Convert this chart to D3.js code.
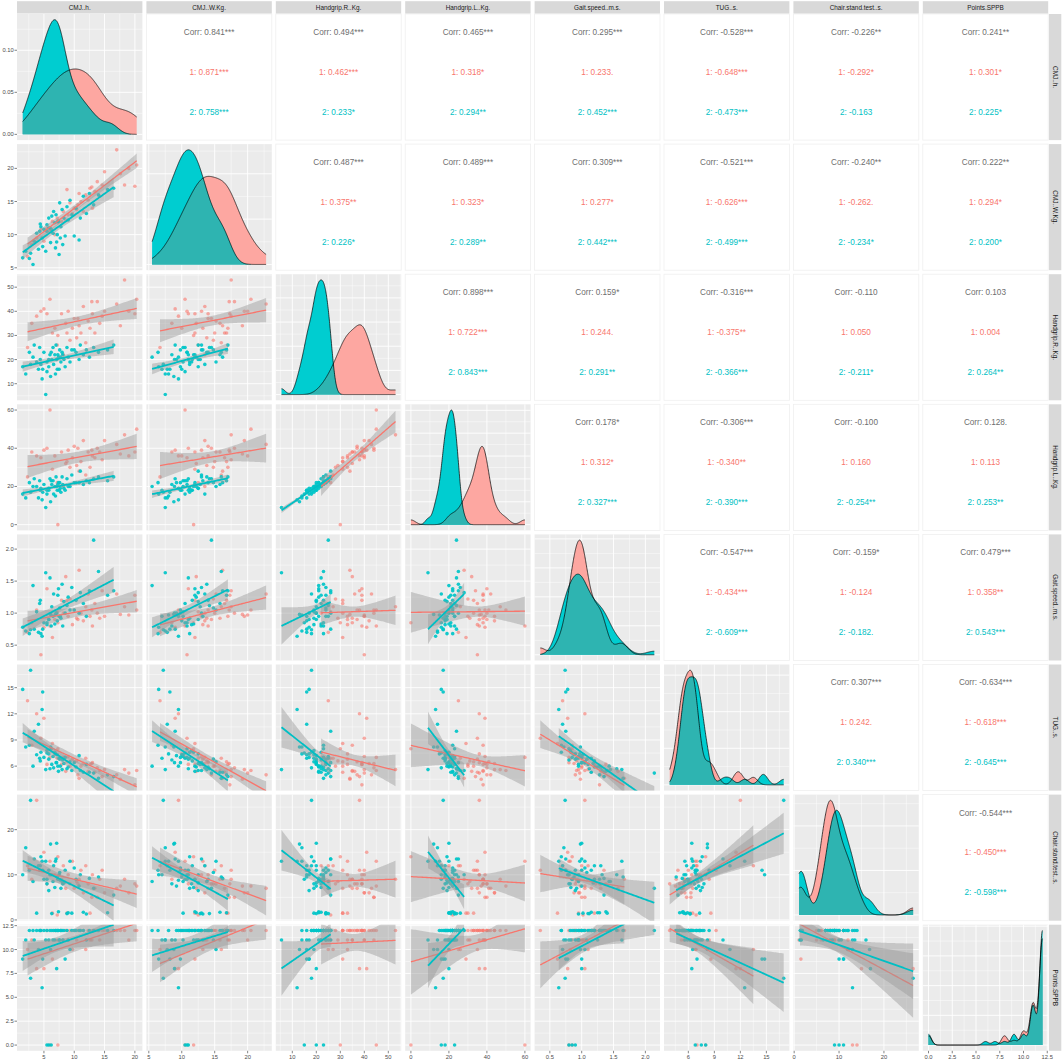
<!DOCTYPE html>
<html>
<head>
<meta charset="utf-8">
<script src="https://cdn.jsdelivr.net/npm/d3@7"></script>
<style>
  body { margin: 0; background: #fff; }
  text { font-family: "Liberation Sans", Arial, sans-serif; }
</style>
</head>
<body>
<svg id="chart" width="1062" height="1061"></svg>
<script>
var varNames = ['CMJ..h.', 'CMJ..W.Kg.', 'Handgrip.R..Kg.', 'Handgrip.L..Kg.',
  'Gait.speed..m.s.', 'TUG..s.', 'Chair.stand.test..s.', 'Points.SPPB'];

// group 1 (red)
var cmjH_1 = [2.3, 3.0, 3.8, 4.5, 5.0, 5.5, 6.0, 6.4, 6.8, 7.2, 7.3, 7.9, 8.2, 8.6, 9.0, 9.3, 9.7, 10.0, 10.4, 10.8,
  11.1, 11.5, 11.9, 12.3, 12.6, 13.0, 13.4, 13.8, 14.2, 14.6, 15.0, 8.8, 10.6, 12.9, 17.0, 17.6, 18.3, 19.0, 20.0, 20.3];
var cmjW_1 = [6.7, 8.5, 9.5, 10.8, 9.0, 11.0, 10.5, 12.0, 10.0, 12.5, 11.8, 12.0, 13.5, 12.2, 13.0, 14.8, 13.2, 14.0, 13.8, 16.2,
  15.0, 13.5, 16.0, 15.2, 17.0, 14.0, 16.5, 18.0, 15.8, 17.5, 19.5, 16.8, 14.5, 17.2, 22.8, 19.2, 17.5, 20.0, 17.3, 20.5];
var gripR_1 = [25, 35, 38, 40, 41, 39, 45, 31, 33, 26, 30, 39, 22, 35, 40, 28, 33, 37, 29, 34,
  31, 42, 27, 36, 33, 39, 31, 44, 35, 38, 40, 31, 37, 44, 43, 34, 53, 40, 39, 45];
var gripL_1 = [25, 38, 36, 35, 39, 40, 60, 29, 36, 22, 0, 38, 20, 32, 39, 30, 35, 41, 31, 28,
  33, 44, 26, 38, 30, 36, 35, 40, 38, 34, 44, 33, 40, 39, 42, 37, 47, 36, 38, 50];
var gait_1 = [0.70, 0.85, 1.05, 0.35, 0.78, 1.38, 0.80, 0.62, 0.90, 1.02, 0.85, 1.20, 1.00, 1.57, 0.95, 1.22, 0.82, 1.05, 0.92, 1.67,
  1.00, 0.88, 1.10, 1.30, 0.95, 0.80, 1.15, 1.00, 0.92, 1.35, 0.95, 1.20, 0.90, 1.05, 1.30, 0.98, 1.10, 0.97, 1.28, 1.05];
var tug_1 = [13.5, 8.4, 12.0, 9.2, 11.5, 6.2, 7.0, 8.6, 7.4, 6.9, 8.0, 6.2, 7.0, 5.4, 7.1, 6.0, 6.8, 6.5, 6.6, 4.6,
  6.0, 6.3, 6.9, 5.4, 6.2, 6.4, 5.3, 5.8, 5.5, 4.8, 5.6, 6.5, 5.0, 6.3, 5.0, 4.5, 5.6, 5.2, 3.85, 5.5];
var chair_1 = [12, 9, 26.5, 11, 15, 8, 13, 1.5, 10, 1.1, 14, 9, 12, 7, 10, 8, 13, 7, 8.5, 9,
  11, 6, 12, 8, 1.5, 10, 7, 5, 9, 11, 6, 1.5, 8, 5, 7, 7.5, 9, 6, 8, 7.5];
var sppb_1 = [10, 11, 8, 12, 8, 12, 0, 9, 12, 11, 0, 12, 11, 12, 11, 12, 10, 12, 11, 12,
  12, 12, 10, 12, 11, 12, 12, 12, 11, 12, 12, 12, 12, 11, 12, 12, 12, 11, 12, 12];

// group 2 (cyan)
var cmjH_2 = [1.5, 2.0, 4.4, 2.6, 2.8, 6.9, 3.2, 3.4, 7.5, 3.8, 8.1, 4.1, 4.3, 4.5, 10.8, 4.8, 5.0, 9.0, 5.3, 5.5,
  10.0, 5.8, 6.0, 6.1, 6.3, 6.5, 6.6, 6.8, 7.0, 7.2, 7.4, 7.6, 7.8, 8.0, 8.3, 8.5, 8.8, 7.3, 9.3, 9.6,
  7.7, 10.3, 7.1, 11.0, 11.5, 12.0, 12.5, 13.2, 14.0, 5.5, 5.8, 6.2, 15.5, 16.5, 4.7];
var cmjW_2 = [6.5, 7.5, 11.6, 6.4, 7.2, 8.0, 5.5, 9.0, 7.0, 10.2, 8.5, 7.8, 10.5, 11.2, 9.2, 8.2, 10.8, 12.2, 7.5, 11.5,
  9.8, 12.5, 11.0, 8.8, 12.8, 10.2, 13.5, 11.8, 13.0, 10.0, 12.0, 14.8, 11.2, 13.8, 12.5, 9.8, 14.2, 12.0, 15.2, 13.0,
  9.5, 14.0, 8.9, 12.5, 15.8, 13.2, 16.2, 14.5, 16.0, 10.5, 11.0, 10.8, 16.8, 17.0, 9.5];
var gripR_2 = [17, 14, 20, 23, 18, 14, 21, 26, 16, 19, 22, 16, 25, 18, 20, 16, 23, 21, 5.5, 19,
  24, 17, 22, 13, 20, 25, 18, 22, 26, 16, 21, 24, 19, 23, 20, 17, 25, 22, 19, 24,
  21, 23, 20, 26, 22, 24, 21, 25, 23, 15, 20, 23, 24, 26, 12];
var gripL_2 = [16, 14, 18, 22, 17, 15, 20, 24, 18, 20, 21, 14, 23, 19, 22, 17, 21, 20, 9, 18,
  22, 19, 24, 12, 21, 23, 16, 20, 25, 18, 22, 22, 17, 25, 19, 18, 24, 21, 20, 26,
  19, 22, 20, 28, 21, 23, 22, 24, 25, 16, 18, 23, 23, 25, 13];
var gait_2 = [0.78, 0.72, 1.20, 0.68, 0.74, 0.97, 1.43, 0.75, 0.95, 1.02, 0.80, 0.70, 1.15, 0.68, 1.00, 0.75, 0.85, 1.25, 1.63, 0.82,
  1.05, 0.90, 1.55, 0.98, 1.10, 0.95, 1.30, 0.83, 1.00, 0.88, 1.38, 1.08, 0.92, 1.45, 1.18, 1.00, 1.12, 1.28, 1.05, 1.40,
  0.95, 1.20, 1.00, 1.32, 1.15, 0.95, 1.35, 2.14, 1.65, 0.85, 0.90, 0.80, 1.28, 1.35, 0.64];
var tug_2 = [14.8, 8.2, 6.6, 8.4, 17.0, 7.4, 6.0, 10.0, 6.9, 7.3, 6.7, 10.8, 6.9, 7.6, 7.2, 14.5, 7.0, 5.9, 5.6, 7.8,
  6.4, 7.4, 5.7, 8.2, 6.2, 7.1, 5.8, 7.6, 6.4, 7.3, 5.4, 6.8, 6.9, 5.6, 6.3, 7.0, 5.7, 6.0, 6.5, 5.5,
  6.0, 5.9, 6.4, 5.5, 5.3, 6.2, 5.3, 5.2, 4.6, 7.5, 6.8, 8.0, 5.0, 4.8, 12.5];
var chair_2 = [10, 16, 12, 11, 26.5, 13, 8.5, 13.5, 10, 1.5, 8, 12, 11, 14, 7.5, 11, 9, 1.6, 13, 8,
  11.5, 6.5, 10, 16.8, 1.4, 8.5, 12, 7.2, 13.5, 9.5, 1.8, 10.5, 7, 8.5, 8.2, 11, 1.4, 9, 13, 1.5,
  8.8, 9, 17, 10, 1.7, 1.3, 9.2, 7, 9.5, 9, 11, 10, 1.6, 5.5, 13];
var sppb_2 = [9, 11, 12, 12, 7, 12, 12, 11, 11, 12, 11, 10, 12, 12, 12, 9, 12, 11, 11, 12,
  12, 11, 12, 10, 12, 11, 12, 11, 12, 12, 12, 11, 12, 12, 12, 9, 12, 12, 10, 12,
  12, 12, 8, 12, 12, 11, 12, 12, 12, 0, 0, 0, 12, 12, 6];

// tick labels per variable
var ticksCmjH = ['5', '10', '15', '20'];
var ticksCmjW = ['5', '10', '15', '20'];
var ticksGripR = ['10', '20', '30', '40', '50'];
var ticksGripL = ['0', '20', '40', '60'];
var ticksGait = ['0.5', '1.0', '1.5', '2.0'];
var ticksTug = ['6', '9', '12', '15'];
var ticksChair = ['0', '10', '20'];
var ticksSppb = ['0.0', '2.5', '5.0', '7.5', '10.0', '12.5'];
var ticksDensity = ['0.00', '0.05', '0.10'];

// correlation labels, upper triangle in row order
var corrAll = ['0.841***', '0.494***', '0.465***', '0.295***', '-0.528***', '-0.226**', '0.241**',
  '0.487***', '0.489***', '0.309***', '-0.521***', '-0.240**', '0.222**',
  '0.898***', '0.159*', '-0.316***', '-0.110', '0.103',
  '0.178*', '-0.306***', '-0.100', '0.128.',
  '-0.547***', '-0.159*', '0.479***',
  '0.307***', '-0.634***',
  '-0.544***'];
var corr1 = ['0.871***', '0.462***', '0.318*', '0.233.', '-0.648***', '-0.292*', '0.301*',
  '0.375**', '0.323*', '0.277*', '-0.626***', '-0.262.', '0.294*',
  '0.722***', '0.244.', '-0.375**', '0.050', '0.004',
  '0.312*', '-0.340**', '0.160', '0.113',
  '-0.434***', '-0.124', '0.358**',
  '0.242.', '-0.618***',
  '-0.450***'];
var corr2 = ['0.758***', '0.233*', '0.294**', '0.452***', '-0.473***', '-0.163', '0.225*',
  '0.226*', '0.289**', '0.442***', '-0.499***', '-0.234*', '0.200*',
  '0.843***', '0.291**', '-0.366***', '-0.211*', '0.264**',
  '0.327***', '-0.390***', '-0.254**', '0.253**',
  '-0.609***', '-0.182.', '0.543***',
  '0.340***', '-0.645***',
  '-0.598***'];

(function () {
  var groups = [
    {key: '1', cols: [cmjH_1, cmjW_1, gripR_1, gripL_1, gait_1, tug_1, chair_1, sppb_1],
     point: '#F8766D', pointAlpha: 0.6, line: '#F8766D', lineW: 1.3, text: '#F8766D', fill: '#FDA7A1'},
    {key: '2', cols: [cmjH_2, cmjW_2, gripR_2, gripL_2, gait_2, tug_2, chair_2, sppb_2],
     point: '#00C4C8', pointAlpha: 0.92, line: '#00BFC4', lineW: 1.8, text: '#00BFC4', fill: '#00CDD0'}
  ];
  var overlapFill = '#2EB4B1';
  var varTicks = [ticksCmjH, ticksCmjW, ticksGripR, ticksGripL, ticksGait, ticksTug, ticksChair, ticksSppb];

  var svg = d3.select('#chart');
  var nv = varNames.length;
  var panelW = 125.4, panelH = 126.1, gap = 4, leftX = 17, topY = 14;
  var px = function (j) { return leftX + j * (panelW + gap); };
  var py = function (i) { return topY + i * (panelH + gap); };

  var expand = function (e) { var r = e[1] - e[0]; return [e[0] - 0.05 * r, e[1] + 0.05 * r]; };
  var ranges = d3.range(nv).map(function (k) {
    return d3.extent(groups[0].cols[k].concat(groups[1].cols[k]));
  });
  var xs = ranges.map(function (e, j) { return d3.scaleLinear().domain(expand(e)).range([px(j), px(j) + panelW]); });
  var ys = ranges.map(function (e, i) { return d3.scaleLinear().domain(expand(e)).range([py(i) + panelH, py(i)]); });

  var inDom = function (v, dom) { return v >= Math.min(dom[0], dom[1]) - 1e-9 && v <= Math.max(dom[0], dom[1]) + 1e-9; };
  var minorOf = function (ticks, dom) {
    var step = ticks[1] - ticks[0], m = [];
    for (var v = ticks[0] - step / 2; v <= ticks[ticks.length - 1] + step / 2 + 1e-9; v += step) {
      if (inDom(v, dom)) m.push(v);
    }
    return m;
  };
  var tickVals = function (labels) { return labels.map(Number); };

  // t quantile (0.975) approximation
  var tq = function (df) {
    var z = 1.959964;
    return z + (Math.pow(z, 3) + z) / (4 * df) + (5 * Math.pow(z, 5) + 16 * Math.pow(z, 3) + 3 * z) / (96 * df * df);
  };
  var fitLine = function (xv, yv) {
    var n = xv.length, mx = d3.mean(xv), my = d3.mean(yv), sxx = 0, sxy = 0;
    xv.forEach(function (x, k) { sxx += (x - mx) * (x - mx); sxy += (x - mx) * (yv[k] - my); });
    var b = sxy / sxx, a = my - b * mx;
    var sse = d3.sum(xv, function (x, k) { var r = yv[k] - a - b * x; return r * r; });
    var s = Math.sqrt(sse / (n - 2)), t = tq(n - 2), ext = d3.extent(xv);
    return d3.range(80).map(function (k) {
      var x = ext[0] + (ext[1] - ext[0]) * k / 79, f = a + b * x;
      var se = s * Math.sqrt(1 / n + (x - mx) * (x - mx) / sxx);
      return {x: x, f: f, lo: f - t * se, hi: f + t * se};
    });
  };
  var bwNrd0 = function (x) {
    var sorted = x.slice().sort(d3.ascending);
    var sd = d3.deviation(x), iqr = d3.quantile(sorted, 0.75) - d3.quantile(sorted, 0.25);
    var lo = Math.min(sd, iqr / 1.34);
    if (!lo) lo = sd || Math.abs(x[0]) || 1;
    return 0.9 * lo * Math.pow(x.length, -0.2);
  };
  var kde = function (x, grid) {
    var h = bwNrd0(x), n = x.length, c = 1 / (n * h * Math.sqrt(2 * Math.PI));
    return grid.map(function (g) {
      return c * d3.sum(x, function (v) { var u = (g - v) / h; return Math.exp(-0.5 * u * u); });
    });
  };

  var defs = svg.append('defs');
  var drawGrid = function (g, xsc, ysc, xt, yt, x0, y0) {
    var xd = xsc.domain(), yd = ysc.domain();
    g.append('rect').attr('x', x0).attr('y', y0).attr('width', panelW).attr('height', panelH).attr('fill', '#EBEBEB');
    minorOf(xt, xd).forEach(function (v) {
      g.append('line').attr('x1', xsc(v)).attr('x2', xsc(v)).attr('y1', y0).attr('y2', y0 + panelH)
        .attr('stroke', '#fff').attr('stroke-width', 0.45);
    });
    minorOf(yt, yd).forEach(function (v) {
      g.append('line').attr('y1', ysc(v)).attr('y2', ysc(v)).attr('x1', x0).attr('x2', x0 + panelW)
        .attr('stroke', '#fff').attr('stroke-width', 0.45);
    });
    xt.filter(function (v) { return inDom(v, xd); }).forEach(function (v) {
      g.append('line').attr('x1', xsc(v)).attr('x2', xsc(v)).attr('y1', y0).attr('y2', y0 + panelH)
        .attr('stroke', '#fff').attr('stroke-width', 0.9);
    });
    yt.filter(function (v) { return inDom(v, yd); }).forEach(function (v) {
      g.append('line').attr('y1', ysc(v)).attr('y2', ysc(v)).attr('x1', x0).attr('x2', x0 + panelW)
        .attr('stroke', '#fff').attr('stroke-width', 0.9);
    });
  };

  var densScales = [];
  var pairIdx = 0;

  var drawCorr = function (g, x0, y0) {
    g.append('rect').attr('x', x0).attr('y', y0).attr('width', panelW).attr('height', panelH)
      .attr('fill', '#fff').attr('stroke', '#EFEFEF').attr('stroke-width', 0.8);
    var cx = x0 + panelW / 2;
    var rows = [
      {t: 'Corr: ' + corrAll[pairIdx], c: '#6E6E6E', f: 0.143},
      {t: '1: ' + corr1[pairIdx], c: groups[0].text, f: 0.46},
      {t: '2: ' + corr2[pairIdx], c: groups[1].text, f: 0.777}
    ];
    rows.forEach(function (l) {
      g.append('text').attr('x', cx).attr('y', y0 + l.f * panelH).attr('dy', '0.35em')
        .attr('text-anchor', 'middle').attr('font-size', '8.2px').attr('fill', l.c).text(l.t);
    });
    pairIdx++;
  };

  var drawDensity = function (g, j, x0, y0, clipId) {
    var grid = d3.range(512).map(function (k) { return ranges[j][0] + (ranges[j][1] - ranges[j][0]) * k / 511; });
    var d1 = kde(groups[0].cols[j], grid), d2 = kde(groups[1].cols[j], grid);
    var dmax = Math.max(d3.max(d1), d3.max(d2));
    var ysc = d3.scaleLinear().domain([-0.05 * dmax, 1.05 * dmax]).range([y0 + panelH, y0]);
    densScales[j] = ysc;
    var yt = j === 0 ? tickVals(ticksDensity) : ysc.ticks(4);
    drawGrid(g, xs[j], ysc, tickVals(varTicks[j]), yt, x0, y0);
    var area = function (vals) {
      return d3.area().x(function (d, k) { return xs[j](grid[k]); })
        .y0(ysc(0)).y1(function (d) { return ysc(d); })(vals);
    };
    var curve = function (vals) {
      return d3.line().x(function (d, k) { return xs[j](grid[k]); }).y(function (d) { return ysc(d); })(vals);
    };
    var dmin = d1.map(function (v, k) { return Math.min(v, d2[k]); });
    var dg = g.append('g').attr('clip-path', 'url(#' + clipId + ')');
    dg.append('path').attr('d', area(d1)).attr('fill', groups[0].fill);
    dg.append('path').attr('d', area(d2)).attr('fill', groups[1].fill);
    dg.append('path').attr('d', area(dmin)).attr('fill', overlapFill);
    [d1, d2].forEach(function (d) {
      dg.append('path').attr('d', curve(d)).attr('fill', 'none').attr('stroke', '#000').attr('stroke-width', 0.7);
    });
  };

  var drawScatter = function (g, i, j, x0, y0, clipId) {
    drawGrid(g, xs[j], ys[i], tickVals(varTicks[j]), tickVals(varTicks[i]), x0, y0);
    var sg = g.append('g').attr('clip-path', 'url(#' + clipId + ')');
    groups.forEach(function (gr) {
      var xv = gr.cols[j], yv = gr.cols[i];
      xv.forEach(function (xval, k) {
        sg.append('circle').attr('cx', xs[j](xval)).attr('cy', ys[i](yv[k])).attr('r', 1.8)
          .attr('fill', gr.point).attr('fill-opacity', gr.pointAlpha);
      });
    });
    groups.forEach(function (gr) {
      var fit = fitLine(gr.cols[j], gr.cols[i]);
      sg.append('path')
        .attr('d', d3.area().x(function (d) { return xs[j](d.x); })
          .y0(function (d) { return ys[i](d.lo); }).y1(function (d) { return ys[i](d.hi); })(fit))
        .attr('fill', '#999999').attr('fill-opacity', 0.45);
      sg.append('path')
        .attr('d', d3.line().x(function (d) { return xs[j](d.x); }).y(function (d) { return ys[i](d.f); })(fit))
        .attr('fill', 'none').attr('stroke', gr.line).attr('stroke-width', gr.lineW);
    });
  };

  for (var i = 0; i < nv; i++) {
    for (var j = 0; j < nv; j++) {
      var x0 = px(j), y0 = py(i);
      var g = svg.append('g');
      var clipId = 'clip' + i + '_' + j;
      defs.append('clipPath').attr('id', clipId).append('rect')
        .attr('x', x0).attr('y', y0).attr('width', panelW).attr('height', panelH);
      if (i < j) drawCorr(g, x0, y0);
      else if (i === j) drawDensity(g, j, x0, y0, clipId);
      else drawScatter(g, i, j, x0, y0, clipId);
    }
  }

  // strips
  varNames.forEach(function (label, j) {
    svg.append('rect').attr('x', px(j)).attr('y', 1.2).attr('width', panelW).attr('height', 12.3).attr('fill', '#D9D9D9');
    svg.append('text').attr('x', px(j) + panelW / 2).attr('y', 7.4).attr('dy', '0.35em')
      .attr('text-anchor', 'middle').attr('font-size', '6.4px').attr('fill', '#1A1A1A').text(label);
  });
  varNames.forEach(function (label, i) {
    var sx = 1049, cy = py(i) + panelH / 2;
    svg.append('rect').attr('x', sx).attr('y', py(i)).attr('width', 12.3).attr('height', panelH).attr('fill', '#D9D9D9');
    svg.append('text').attr('transform', 'translate(' + (sx + 6.1) + ',' + cy + ') rotate(90)')
      .attr('dy', '0.35em').attr('text-anchor', 'middle').attr('font-size', '6.4px').attr('fill', '#1A1A1A').text(label);
  });

  // left axis
  for (var r = 0; r < nv; r++) {
    var labels = r === 0 ? ticksDensity : varTicks[r];
    var sc = r === 0 ? densScales[0] : ys[r];
    labels.forEach(function (lab) {
      var v = +lab;
      if (!inDom(v, sc.domain())) return;
      var yy = sc(v);
      svg.append('line').attr('x1', leftX - 2.5).attr('x2', leftX).attr('y1', yy).attr('y2', yy)
        .attr('stroke', '#333').attr('stroke-width', 0.6);
      svg.append('text').attr('x', leftX - 3.3).attr('y', yy).attr('dy', '0.35em').attr('text-anchor', 'end')
        .attr('font-size', '5.8px').attr('fill', '#4D4D4D').text(lab);
    });
  }

  // bottom axis
  var yb = py(nv - 1) + panelH;
  for (var c = 0; c < nv; c++) {
    varTicks[c].forEach(function (lab) {
      var v = +lab;
      if (!inDom(v, xs[c].domain())) return;
      var xx = xs[c](v);
      svg.append('line').attr('x1', xx).attr('x2', xx).attr('y1', yb).attr('y2', yb + 2.5)
        .attr('stroke', '#333').attr('stroke-width', 0.6);
      svg.append('text').attr('x', xx).attr('y', yb + 7.8).attr('text-anchor', 'middle')
        .attr('font-size', '5.8px').attr('fill', '#4D4D4D').text(lab);
    });
  }
})();
</script>
</body>
</html>
